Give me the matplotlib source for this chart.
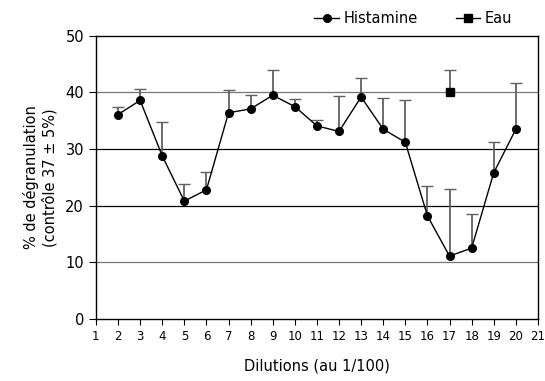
import numpy as np
from matplotlib import pyplot as plt

# Dilution index and % degranulation (mean, upper error)
dilutions = np.arange(2, 21)
histamine = [36.1, 38.6, 28.8, 20.8, 22.8, 36.4, 37.1, 39.5, 37.5, 34.1,
             33.1, 39.2, 33.5, 31.2, 18.2, 11.1, 12.5, 25.8, 33.5]
histamine_top = [37.4, 40.6, 34.8, 23.8, 26.0, 40.5, 39.6, 44.0, 38.9, 35.1,
                 39.3, 42.5, 39.1, 38.7, 23.4, 22.9, 18.5, 31.2, 41.7]
eau_x = [17]
eau = [40.1]
eau_top = [44.0]

hist_err = np.array(histamine_top) - np.array(histamine)
eau_err = np.array(eau_top) - np.array(eau)

fig = plt.figure(figsize=(5.45, 3.81), dpi=100)
ax = fig.add_axes([0.176, 0.163, 0.811, 0.743])

for y, c in [(10, "#777777"), (20, "black"), (30, "black"), (40, "#777777")]:
    ax.axhline(y, color=c, linewidth=0.9, zorder=0)

# upper-only error bars: drop the lower cap
for xs, ys, err in [(dilutions, histamine, hist_err), (eau_x, eau, eau_err)]:
    eb = ax.errorbar(xs, ys, yerr=[np.zeros_like(err), err], fmt="none",
                     ecolor="#606060", elinewidth=1.3, capsize=4.5, capthick=1, zorder=1)
    eb[1][0].set_visible(False)

ax.plot(dilutions, histamine, color="black", linewidth=1, marker="o",
        markersize=5.5, label="Histamine", zorder=3)
ax.plot(eau_x, eau, color="black", linewidth=1, marker="s",
        markersize=5.5, label="Eau", zorder=3)

ax.set_xlim(1, 21)
ax.set_ylim(0, 50)
ax.set_xticks(range(1, 22))
ax.set_yticks(range(0, 51, 10))
ax.tick_params(axis="x", labelsize=8.5, length=4, direction="out", pad=4)
ax.tick_params(axis="y", labelsize=10.5, length=5, direction="out")
for s in ax.spines.values():
    s.set_linewidth(1)

ax.set_xlabel("Dilutions (au 1/100)", fontsize=10.5, labelpad=11)
ax.set_ylabel("% de dégranulation\n(contrôle 37 ± 5%)", fontsize=10.5, labelpad=6)

ax.legend(loc="lower right", bbox_to_anchor=(0.965, 1.0), ncol=2, frameon=False,
          fontsize=10.5, handlelength=1.7, handletextpad=0.3, columnspacing=2.6,
          borderaxespad=0.3)

fig.savefig("out.png", dpi=100)
